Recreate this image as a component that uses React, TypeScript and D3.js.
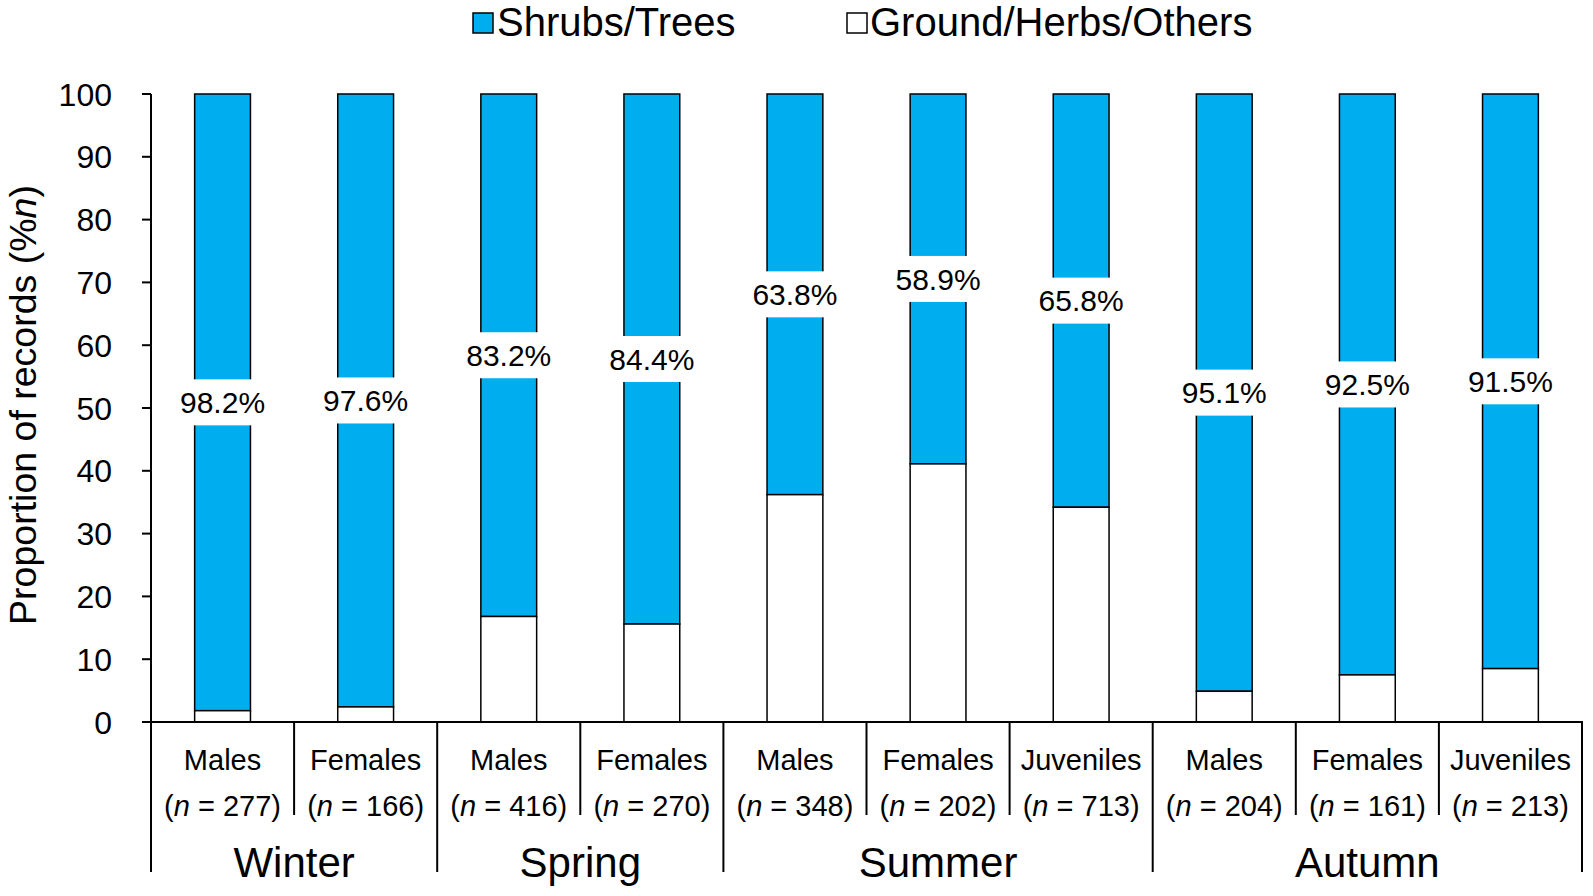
import React from "react";
import * as d3 from "d3";

const groups = ["Males", "Females", "Males", "Females", "Males", "Females", "Juveniles", "Males", "Females", "Juveniles"];
const counts = [277, 166, 416, 270, 348, 202, 713, 204, 161, 213];
const seasons = ["Winter", "Spring", "Summer", "Autumn"];
const seasonOf = [0, 0, 1, 1, 2, 2, 2, 3, 3, 3];
const shrubs = [98.2, 97.6, 83.2, 84.4, 63.8, 58.9, 65.8, 95.1, 92.5, 91.5];
const yTicks = [0, 10, 20, 30, 40, 50, 60, 70, 80, 90, 100];

const W = 1593, H = 896;
const FONT = "'Liberation Sans', Arial, sans-serif";
const BLUE = "#00AEEF";

export default function App() {
  const left = 151, right = 1582, top = 94, base = 722;
  const x = d3.scaleBand<number>().domain(d3.range(groups.length)).range([left, right]).padding(0);
  const y = d3.scaleLinear().domain([0, 100]).range([base, top]);
  const bw = x.bandwidth() * 0.39;
  const seasonEdges = seasons.map((_, s) => {
    const idx = seasonOf.map((v, i) => (v === s ? i : -1)).filter((i) => i >= 0);
    const x0 = x(idx[0])!;
    const x1 = x(idx[idx.length - 1])! + x.bandwidth();
    return { x0, x1 };
  });

  return (
    <svg width={W} height={H} style={{ position: "absolute", left: 0, top: 0, background: "#fff" }} fontFamily={FONT}>
      <rect width={W} height={H} fill="#fff" />
      {/* legend */}
      <g>
        <rect x={473} y={13} width={20} height={20} fill={BLUE} stroke="#000" strokeWidth={1.5} />
        <text x={497} y={36} fontSize={40} fill="#000">Shrubs/Trees</text>
        <rect x={847} y={13} width={20} height={20} fill="#fff" stroke="#000" strokeWidth={1.5} />
        <text x={870} y={36} fontSize={40} fill="#000">Ground/Herbs/Others</text>
      </g>
      {/* y axis title */}
      <text transform={`translate(36,405) rotate(-90)`} textAnchor="middle" fontSize={37.5} fill="#000">
        Proportion of records (%<tspan fontStyle="italic">n</tspan>)
      </text>
      {/* y ticks */}
      {yTicks.map((t) => (
        <g key={t}>
          <line x1={left - 9} x2={left} y1={y(t)} y2={y(t)} stroke="#000" strokeWidth={2} />
          <text x={left - 39} y={y(t)} dy="0.36em" textAnchor="end" fontSize={32} fill="#000">{t}</text>
        </g>
      ))}
      {/* bars */}
      {shrubs.map((v, i) => {
        const cx = x(i)! + x.bandwidth() / 2;
        const g = 100 - v;
        return (
          <g key={i}>
            <rect x={cx - bw / 2} y={y(100)} width={bw} height={y(g) - y(100)} fill={BLUE} stroke="#000" strokeWidth={1.5} />
            <rect x={cx - bw / 2} y={y(g)} width={bw} height={y(0) - y(g)} fill="#fff" stroke="#000" strokeWidth={1.5} />
          </g>
        );
      })}
      {/* labels */}
      {shrubs.map((v, i) => {
        const cx = x(i)! + x.bandwidth() / 2;
        const g = 100 - v;
        const cy = y((g + 100) / 2);
        return (
          <g key={"l" + i}>
            <rect x={cx - 50} y={cy - 23} width={100} height={46} fill="#fff" />
            <text x={cx} y={cy} dy="0.36em" textAnchor="middle" fontSize={30} fill="#000">{v.toFixed(1)}%</text>
          </g>
        );
      })}
      {/* axes lines */}
      <line x1={left} x2={left} y1={top} y2={872} stroke="#000" strokeWidth={2} />
      <line x1={left - 9} x2={right + 1} y1={base} y2={base} stroke="#000" strokeWidth={2} />
      {/* separators */}
      {groups.map((_, i) => {
        if (i === 0) return null;
        const isSeason = seasonOf[i] !== seasonOf[i - 1];
        const xx = x(i)!;
        return <line key={"s" + i} x1={xx} x2={xx} y1={base} y2={isSeason ? 872 : 815} stroke="#000" strokeWidth={2} />;
      })}
      <line x1={right} x2={right} y1={base} y2={872} stroke="#000" strokeWidth={2} />
      {/* group labels */}
      {groups.map((gname, i) => {
        const cx = x(i)! + x.bandwidth() / 2;
        return (
          <g key={"g" + i}>
            <text x={cx} y={760} dy="0.36em" textAnchor="middle" fontSize={29} fill="#000">{gname}</text>
            <text x={cx} y={806} dy="0.36em" textAnchor="middle" fontSize={29} fill="#000">
              (<tspan fontStyle="italic">n</tspan> = {counts[i]})
            </text>
          </g>
        );
      })}
      {seasons.map((s, k) => (
        <text key={s} x={(seasonEdges[k].x0 + seasonEdges[k].x1) / 2} y={862} dy="0.36em" textAnchor="middle" fontSize={42} fill="#000">{s}</text>
      ))}
    </svg>
  );
}
